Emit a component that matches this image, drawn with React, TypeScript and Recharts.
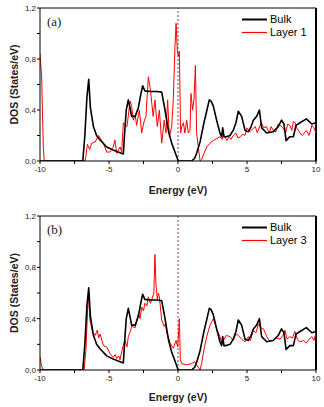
import { LineChart, Line, XAxis, YAxis, ReferenceLine, Label } from "recharts";

// energy (eV), DOS (states/eV) pairs
const bulk: [number, number][] = [
  [-10, 0], [-6.9, 0], [-6.75, 0.2], [-6.6, 0.5], [-6.47, 0.64], [-6.35, 0.42], [-6.13, 0.27],
  [-5.9, 0.2], [-5.65, 0.165], [-5.17, 0.11], [-4.7, 0.086], [-4.2, 0.065], [-3.96, 0.055],
  [-3.88, 0.2], [-3.75, 0.4], [-3.6, 0.48], [-3.45, 0.4], [-3.36, 0.35], [-3.1, 0.35],
  [-2.87, 0.42], [-2.7, 0.52], [-2.56, 0.59], [-2.4, 0.55], [-2.0, 0.545], [-1.5, 0.545],
  [-1.18, 0.54], [-0.94, 0.4], [-0.7, 0.24], [-0.46, 0.14], [-0.22, 0.07], [0.02, 0],
  [0.99, 0], [1.2, 0.02], [1.35, 0.06], [1.6, 0.15], [1.88, 0.3], [2.1, 0.4], [2.27, 0.48],
  [2.4, 0.47], [2.56, 0.43], [2.8, 0.32], [3.04, 0.22], [3.16, 0.19], [3.24, 0.26], [3.33, 0.19],
  [3.5, 0.19], [3.77, 0.2], [4.0, 0.24], [4.2, 0.3], [4.37, 0.39], [4.61, 0.35], [4.86, 0.24],
  [5.1, 0.23], [5.3, 0.27], [5.46, 0.32], [5.7, 0.35], [5.9, 0.4], [6.06, 0.26], [6.43, 0.22],
  [6.9, 0.23], [7.27, 0.27], [7.5, 0.32], [7.68, 0.29], [7.83, 0.16], [8.1, 0.19], [8.36, 0.19],
  [8.55, 0.28], [8.84, 0.3], [9.3, 0.33], [9.7, 0.29], [10, 0.3],
];

const layer1: [number, number][] = [
  [-10, 0.84], [-9.88, 0.66], [-9.76, 0.11], [-9.69, 0], [-6.74, 0], [-6.67, 0.04], [-6.57, 0.13],
  [-6.4, 0.09], [-6.26, 0.14], [-6.0, 0.15], [-5.77, 0.2], [-5.65, 0.18], [-5.4, 0.14],
  [-5.17, 0.07], [-4.93, 0.07], [-4.69, 0.11], [-4.57, 0.165], [-4.44, 0.06], [-4.2, 0.11],
  [-4.08, 0.07], [-3.96, 0.3], [-3.7, 0.27], [-3.47, 0.47], [-3.36, 0.43], [-3.24, 0.32],
  [-3.1, 0.36], [-3.0, 0.28], [-2.8, 0.4], [-2.63, 0.22], [-2.46, 0.31], [-2.32, 0.35],
  [-2.15, 0.66], [-2.0, 0.56], [-1.8, 0.35], [-1.67, 0.48], [-1.5, 0.27], [-1.35, 0.4],
  [-1.18, 0.14], [-1.0, 0.32], [-0.87, 0.22], [-0.75, 0.48], [-0.63, 0.19], [-0.46, 0.27],
  [-0.34, 0.48], [-0.22, 0.9], [-0.14, 1.08], [-0.05, 0.87], [0.02, 0.82], [0.1, 0.86],
  [0.19, 0.22], [0.27, 0.27], [0.39, 0.3], [0.5, 0.22], [0.63, 0.32], [0.75, 0.22], [0.87, 0.24],
  [0.94, 0.53], [1.06, 0.4], [1.16, 0.48], [1.26, 0.75], [1.35, 0.22], [1.47, 0.11], [1.6, 0],
  [1.71, 0.01], [1.88, 0.06], [2.08, 0.11], [2.32, 0.14], [2.56, 0.16], [3.04, 0.19], [3.2, 0.17],
  [3.3, 0.21], [3.53, 0.16], [3.7, 0.19], [3.85, 0.17], [4.0, 0.2], [4.2, 0.22], [4.35, 0.18],
  [4.5, 0.19], [4.7, 0.21], [4.85, 0.2], [5.0, 0.26], [5.2, 0.23], [5.4, 0.25], [5.6, 0.27],
  [5.75, 0.22], [5.94, 0.28], [6.05, 0.3], [6.2, 0.26], [6.4, 0.27], [6.6, 0.22], [6.75, 0.27],
  [6.9, 0.24], [7.1, 0.23], [7.25, 0.29], [7.4, 0.28], [7.6, 0.26], [7.8, 0.22], [7.95, 0.29],
  [8.1, 0.28], [8.25, 0.24], [8.36, 0.31], [8.5, 0.3], [8.6, 0.26], [8.84, 0.22], [9.0, 0.2],
  [9.3, 0.24], [9.5, 0.2], [9.7, 0.28], [9.85, 0.26], [10, 0.22],
];

const layer3: [number, number][] = [
  [-10, 0.1], [-9.88, 0.03], [-9.76, 0], [-6.8, 0], [-6.67, 0.16], [-6.55, 0.47], [-6.47, 0.57],
  [-6.38, 0.39], [-6.18, 0.29], [-6.0, 0.27], [-5.85, 0.31], [-5.75, 0.25], [-5.65, 0.28],
  [-5.4, 0.19], [-5.17, 0.18], [-4.93, 0.13], [-4.8, 0.11], [-4.69, 0.1], [-4.55, 0.12],
  [-4.44, 0.09], [-4.3, 0.11], [-4.2, 0.08], [-4.0, 0.18], [-3.84, 0.23], [-3.7, 0.18],
  [-3.6, 0.26], [-3.45, 0.3], [-3.36, 0.34], [-3.1, 0.33], [-2.87, 0.44], [-2.75, 0.4],
  [-2.63, 0.49], [-2.5, 0.46], [-2.4, 0.52], [-2.25, 0.5], [-2.15, 0.57], [-2.0, 0.52],
  [-1.9, 0.55], [-1.75, 0.6], [-1.67, 0.9], [-1.6, 0.68], [-1.5, 0.55], [-1.42, 0.6],
  [-1.35, 0.57], [-1.18, 0.39], [-1.0, 0.34], [-0.9, 0.36], [-0.82, 0.29], [-0.7, 0.26],
  [-0.58, 0.21], [-0.34, 0.17], [-0.14, 0.23], [-0.02, 0.18], [0.1, 0.4], [0.17, 0.08],
  [0.27, 0.05], [0.63, 0.04], [0.99, 0.05], [1.23, 0.065], [1.35, 0.04], [1.6, 0], [1.71, 0.05],
  [1.88, 0.16], [2.08, 0.26], [2.32, 0.35], [2.56, 0.4], [2.8, 0.32], [3.04, 0.26], [3.15, 0.22],
  [3.29, 0.23], [3.5, 0.27], [3.77, 0.26], [4.0, 0.23], [4.2, 0.28], [4.37, 0.27], [4.6, 0.24],
  [4.86, 0.22], [5.1, 0.26], [5.25, 0.23], [5.46, 0.31], [5.65, 0.29], [5.83, 0.36], [6.0, 0.33],
  [6.2, 0.32], [6.43, 0.26], [6.6, 0.23], [6.9, 0.23], [7.1, 0.25], [7.4, 0.24], [7.6, 0.27],
  [7.75, 0.31], [7.9, 0.24], [8.1, 0.26], [8.3, 0.25], [8.47, 0.3], [8.65, 0.24], [8.84, 0.22],
  [9.1, 0.23], [9.3, 0.21], [9.5, 0.24], [9.7, 0.26], [9.85, 0.23], [10, 0.29],
];

const xTicks = [-10, -7.5, -5, -2.5, 0, 2.5, 5, 7.5, 10];
const yTicks = [0, 0.2, 0.4, 0.6, 0.8, 1.0, 1.2];
const yLabels = ["0,0", "", "0,4", "", "0,8", "", "1,2"];

const SANS = "'Liberation Sans', Arial, sans-serif";

const toRows = (pts: [number, number][]) => pts.map(([e, dos]) => ({ e, dos }));

interface PanelProps {
  tag: string;
  layerName: string;
  layer: [number, number][];
  height: number;
  top: number;
  bottom: number;
}

function Panel({ tag, layerName, layer, height, top, bottom }: PanelProps) {
  const legendItems = [
    { name: "Bulk", color: "#000", w: 2 },
    { name: layerName, color: "#ff0000", w: 1.2 },
  ];

  return (
    <div style={{ position: "relative", width: 324, height }}>
      <LineChart width={324} height={height} margin={{ top, right: 8, left: 0, bottom: 0 }}>
        <XAxis
          type="number"
          dataKey="e"
          domain={[-10, 10]}
          ticks={xTicks}
          tickFormatter={(v: number) => (Number.isInteger(v) ? String(v) : "")}
          tick={{ fontSize: 8, fill: "#222", fontFamily: SANS }}
          tickSize={3}
          tickMargin={2}
          stroke="#000"
          height={bottom}
          allowDataOverflow
        >
          <Label
            value="Energy (eV)"
            position="insideBottom"
            offset={6}
            style={{ fontSize: 10.5, fontWeight: "bold", fontFamily: SANS, fill: "#222" }}
          />
        </XAxis>
        <YAxis
          type="number"
          domain={[0, 1.2]}
          ticks={yTicks}
          tickFormatter={(v: number) => yLabels[yTicks.indexOf(v)] ?? ""}
          tick={{ fontSize: 8, fill: "#222", fontFamily: SANS }}
          tickSize={3}
          tickMargin={1}
          stroke="#000"
          width={40}
          allowDataOverflow
        >
          <Label
            value="DOS (States/eV)"
            angle={-90}
            position="insideLeft"
            offset={14}
            style={{ textAnchor: "middle", fontSize: 10.5, fontWeight: "bold", fontFamily: SANS, fill: "#222" }}
          />
        </YAxis>
        {/* frame: top and thick right edge */}
        <ReferenceLine y={1.2} stroke="#000" strokeWidth={1} ifOverflow="visible" />
        <ReferenceLine x={10} stroke="#000" strokeWidth={2} ifOverflow="visible" />
        <ReferenceLine x={0} stroke="#8a3a5e" strokeDasharray="2 2" strokeWidth={1} />
        <Line
          data={toRows(layer)}
          dataKey="dos"
          name={layerName}
          stroke="#ff0000"
          strokeWidth={1}
          dot={false}
          type="linear"
          isAnimationActive={false}
        />
        <Line
          data={toRows(bulk)}
          dataKey="dos"
          name="Bulk"
          stroke="#000"
          strokeWidth={1.6}
          strokeLinejoin="round"
          dot={false}
          type="linear"
          isAnimationActive={false}
        />
      </LineChart>
      <div
        style={{
          position: "absolute",
          left: 242,
          top: top + 5,
          fontFamily: SANS,
          fontSize: 11,
          color: "#000",
          lineHeight: "13px",
        }}
      >
        {legendItems.map((it) => (
          <div key={it.name} style={{ display: "flex", alignItems: "center" }}>
            <svg width={26} height={13}>
              <line x1={0} x2={25} y1={6.5} y2={6.5} stroke={it.color} strokeWidth={it.w} />
            </svg>
            <span style={{ marginLeft: 2 }}>{it.name}</span>
          </div>
        ))}
      </div>
      <div
        style={{
          position: "absolute",
          left: 47,
          top: top + 6,
          fontFamily: "'Liberation Serif', 'Times New Roman', serif",
          fontSize: 13,
          color: "#222",
        }}
      >
        {tag}
      </div>
    </div>
  );
}

export default function App() {
  return (
    <div style={{ position: "absolute", left: 0, top: 0, width: 324, height: 407, background: "#fff" }}>
      <Panel tag="(a)" layerName="Layer 1" layer={layer1} height={200} top={8} bottom={39} />
      <Panel tag="(b)" layerName="Layer 3" layer={layer3} height={207} top={16} bottom={37} />
    </div>
  );
}
